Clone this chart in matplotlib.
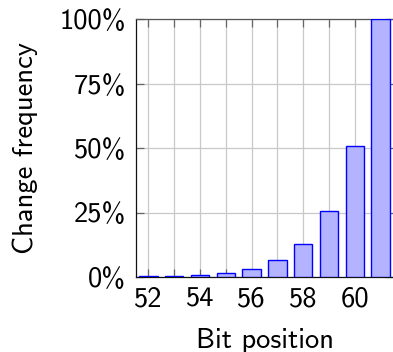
import matplotlib
matplotlib.use("Agg")
import matplotlib.pyplot as plt
from matplotlib.ticker import FuncFormatter, MultipleLocator

# bit positions and how often each one flips (percent)
bits = [52, 53, 54, 55, 56, 57, 58, 59, 60, 61]
freq = [0.2, 0.4, 0.8, 1.6, 3.2, 6.4, 12.9, 25.6, 50.7, 100.0]
yticks = [0, 25, 50, 75, 100]

plt.rcParams["font.family"] = ["cmss10", "DejaVu Sans"]
plt.rcParams["font.size"] = 20.5
plt.rcParams["axes.formatter.use_mathtext"] = True

fig = plt.figure(figsize=(3.93, 3.52), dpi=100)
ax = fig.add_axes([136/393, 75/352, 257/393, 258/352])

ax.bar(bits, freq, width=0.72, color="#b3b3ff", edgecolor="#0000ff", linewidth=1.0, zorder=3)

ax.set_xlim(51.52, 61.48)
ax.set_ylim(0, 100)
ax.xaxis.set_major_locator(MultipleLocator(1))
ax.xaxis.set_major_formatter(FuncFormatter(lambda v, p: f"{int(v)}" if int(round(v)) % 2 == 0 else ""))
ax.set_yticks(yticks)
ax.yaxis.set_major_formatter(FuncFormatter(lambda v, p: f"{int(v)}%"))

ax.grid(True, color="#c8c8c8", linewidth=0.9, zorder=0)
ax.tick_params(direction="in", length=6, width=0.9, color="#666666", top=True, right=True, pad=7)
for s in ax.spines.values():
    s.set_linewidth(0.9)
ax.spines["left"].set_color("#111111")
ax.spines["bottom"].set_color("#111111")
ax.spines["top"].set_color("#555555")
ax.spines["right"].set_visible(False)

ax.set_xlabel("Bit position", labelpad=12)
ax.set_ylabel("Change frequency", labelpad=16)

fig.savefig("out.png", dpi=100)
